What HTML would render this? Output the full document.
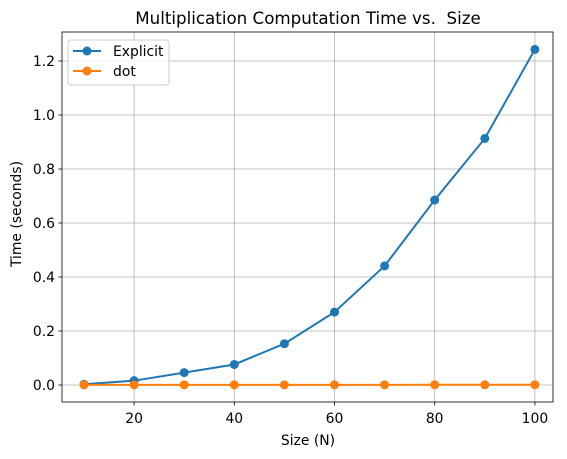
<!DOCTYPE html>
<html><head><meta charset="utf-8"><style>
body{margin:0;background:#fff;font-family:"DejaVu Sans","Liberation Sans",sans-serif;}
text{font-family:"DejaVu Sans","Liberation Sans",sans-serif;white-space:pre;}
</style></head><body>
<svg id="chart" width="567" height="455" xmlns="http://www.w3.org/2000/svg">
<rect width="567" height="455" fill="#fff"/>
<text x="308" y="24" font-size="16.7" text-anchor="middle">Multiplication Computation Time vs.  Size</text>
<g id="grid"></g>
<g id="axes"></g>
<g id="series"></g>
<rect x="62" y="32" width="491" height="370" fill="none" stroke="#000" stroke-width="0.8"/>
<text x="308" y="445" font-size="13.9" text-anchor="middle">Size (N)</text>
<text transform="translate(21,214) rotate(-90)" font-size="13.9" text-anchor="middle">Time (seconds)</text>
<g>
<rect x="68" y="40" width="101" height="45" rx="3" fill="#fff" fill-opacity="0.8" stroke="#ccc"/>
<g>
<line x1="73" y1="51" x2="101" y2="51" stroke="#1f77b4" stroke-width="2"/><circle cx="87" cy="51" r="4.5" fill="#1f77b4"/>
<text x="113" y="56" font-size="13.9">Explicit</text></g>
<g>
<line x1="73" y1="71" x2="101" y2="71" stroke="#ff7f0e" stroke-width="2"/><circle cx="87" cy="71" r="4.5" fill="#ff7f0e"/>
<text x="113" y="76" font-size="13.9">dot</text></g>
</g>
</svg>
<script>
const sizes=[10,20,30,40,50,60,70,80,90,100];
const explicitTimes=[0.003,0.016,0.046,0.076,0.153,0.270,0.441,0.685,0.913,1.243];
const dotTimes=[0.0005,0.0005,0.0005,0.0005,0.0005,0.0006,0.0006,0.0007,0.0008,0.0010];
const xTicks=[20,40,60,80,100];
const yTicks=[0.0,0.2,0.4,0.6,0.8,1.0,1.2];
const NS="http://www.w3.org/2000/svg";
function sx(v){return 84+(v-10)*5.01;}
function sy(v){return 385-v*270;}
function mk(t,a,p){const e=document.createElementNS(NS,t);for(const k in a)e.setAttribute(k,a[k]);p.appendChild(e);return e;}
const grid=document.getElementById('grid'),axes=document.getElementById('axes'),ser=document.getElementById('series');
xTicks.forEach(v=>{const x=sx(v);
const g=mk('line',{x1:x,x2:x,y1:32,y2:402,stroke:'#b0b0b0','stroke-width':0.8},grid);


mk('line',{x1:x,x2:x,y1:402,y2:405.5,stroke:'#000','stroke-width':0.8},axes);
const t=mk('text',{x:x,y:423,'font-size':13.9,'text-anchor':'middle'},axes);t.textContent=v;

});
yTicks.forEach(v=>{const y=sy(v);
const g=mk('line',{x1:62,x2:553,y1:y,y2:y,stroke:'#b0b0b0','stroke-width':0.8},grid);


mk('line',{x1:58.5,x2:62,y1:y,y2:y,stroke:'#000','stroke-width':0.8},axes);
const t=mk('text',{x:55,y:y+5,'font-size':13.9,'text-anchor':'end'},axes);t.textContent=v.toFixed(1);

});
function draw(vals,color,name){
const pl=mk('polyline',{points:sizes.map((s,i)=>sx(s)+','+sy(vals[i])).join(' '),fill:'none',stroke:color,'stroke-width':2},ser);


sizes.forEach((s,i)=>{const c=mk('circle',{cx:sx(s),cy:sy(vals[i]),r:4.5,fill:color},ser);

});}
draw(explicitTimes,'#1f77b4','explicit');
draw(dotTimes,'#ff7f0e','dot');
</script>
</body></html>
